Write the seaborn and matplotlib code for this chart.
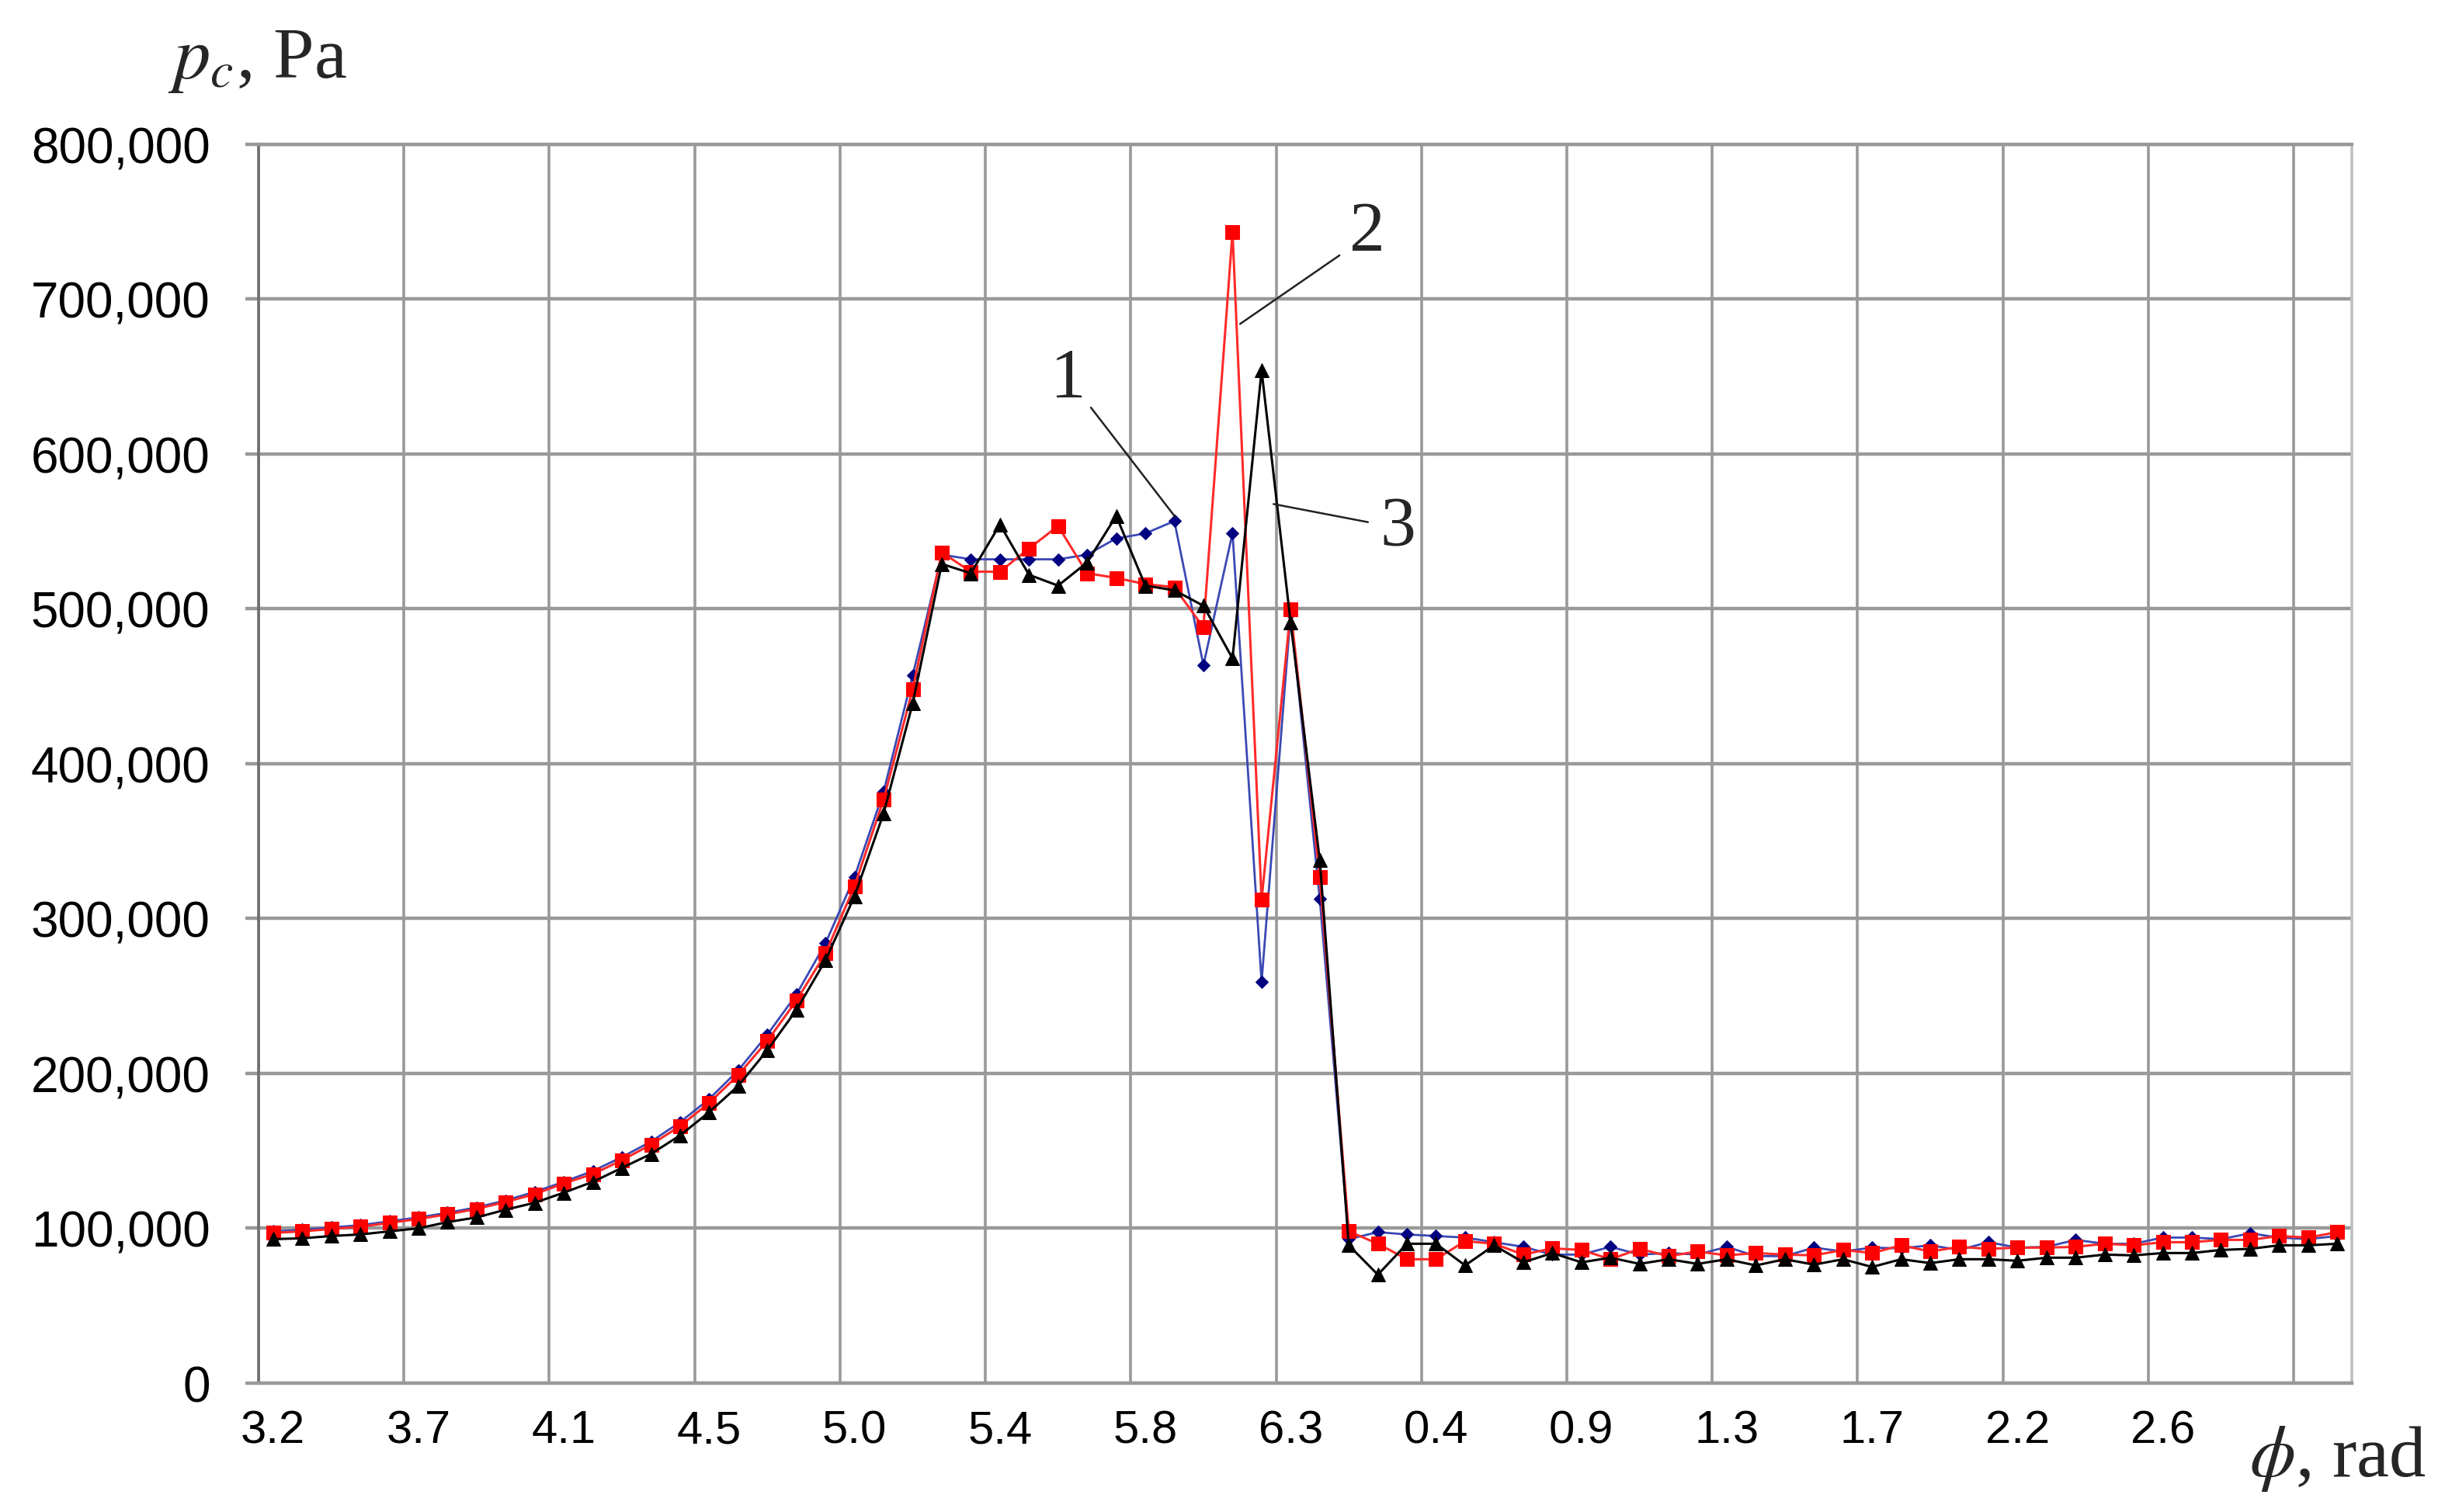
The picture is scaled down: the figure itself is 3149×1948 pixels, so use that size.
import numpy as np
import pandas as pd
import seaborn as sns
import matplotlib.pyplot as plt
from matplotlib.ticker import FuncFormatter

# category labels (every 5th point, angle in rad)
angle_labels = ['3.2', '3.7', '4.1', '4.5', '5.0', '5.4', '5.8', '6.3',
                '0.4', '0.9', '1.3', '1.7', '2.2', '2.6']
n_points = 72

# pressure p_c, thousands of Pa
curve1 = [98, 99, 100.5, 102, 104.5, 107, 110, 113.5, 118, 123.5, 130, 137, 146, 156, 168.5, 183.5, 202, 225, 251,
          284, 327, 382, 457, 535, 532, 532, 532, 532, 535, 545.5, 548.7, 556.7, 463.6, 549, 259, 497, 313,
          93, 97.5, 96, 95, 94, 91, 88, 83, 83, 88, 83, 84, 83, 88, 82, 82, 87.5,
          85, 87.5, 87, 89, 86, 91, 87.5, 88, 92.5, 90, 90, 94, 94, 93, 96.7, 94, 93, 95]
curve2 = [97, 98, 99.5, 101, 103.5, 106, 109, 112.5, 117, 122, 129, 135, 144, 154, 166, 181, 199, 221, 247,
          277.5, 321, 377, 448, 536.5, 524, 524, 539, 553.5, 523, 520, 516, 514, 488, 743.5, 312, 499.5, 327,
          98, 90, 80, 80, 91.7, 90, 83, 87, 86, 80, 86.7, 82, 85, 82.5, 84, 83, 82.5,
          86, 84, 89, 85, 88, 86.7, 87.5, 87.5, 88, 90, 89, 91, 91, 92.5, 92.5, 95, 94, 97.5]
curve3 = [93, 93.5, 95, 96, 98, 100, 104, 107, 112, 116.5, 123, 130, 139, 148, 160, 175, 192, 215, 241,
          273, 314.5, 368, 439, 529, 523, 554.5, 522, 515, 530, 560, 515, 512, 502, 468, 654, 491, 338,
          89, 70, 90, 90, 76, 89, 78, 84, 78, 81, 77, 80, 77, 80, 76, 80, 76.5,
          80, 75, 80, 77.5, 80, 80, 79, 81, 81, 83, 82.5, 84, 84, 86, 86.7, 89, 89, 90]

idx = np.arange(n_points)
frames = []
for name, vals in [('1', curve1), ('2', curve2), ('3', curve3)]:
    frames.append(pd.DataFrame({'idx': idx, 'p': np.array(vals) * 1000, 'curve': name}))
df = pd.concat(frames, ignore_index=True)

sns.set_style('white')
plt.rcParams['font.family'] = ['Liberation Sans', 'DejaVu Sans']
plt.rcParams['mathtext.fontset'] = 'stix'

fig = plt.figure(figsize=(31.49, 19.49), dpi=100)
ax = fig.add_axes([0.10575, 0.0852, 0.85614, 0.81889])

grid_c = '#999999'
styles = {
    '1': dict(color='#3a48b4', marker='D', markersize=8.5, markerfacecolor='#000080', markeredgecolor='#000080', linewidth=2.0),
    '2': dict(color='#ff2a2a', marker='s', markersize=13, markerfacecolor='#ff0000', markeredgecolor='#ff0000', linewidth=2.2),
    '3': dict(color='black', marker='^', markersize=13, markerfacecolor='black', markeredgecolor='black', linewidth=2.2),
}
for name in ['1', '2', '3']:
    sns.lineplot(data=df[df['curve'] == name], x='idx', y='p', errorbar=None, ax=ax, **styles[name])

ax.set_xlim(-0.5, n_points - 0.5)
ax.set_ylim(0, 800000)

# labels centred on every 5th category, grid/ticks on the category boundaries
ax.set_xticks(idx[::5][:len(angle_labels)])
ax.set_xticklabels(angle_labels)
ax.set_xticks(np.arange(-0.5, 65, 5), minor=True)
ax.set_yticks(np.arange(0, 800001, 100000))
ax.yaxis.set_major_formatter(FuncFormatter(lambda v, _: f'{int(v):,}'))

ax.grid(False)
ax.grid(axis='y', which='major', color=grid_c, linewidth=3.2)
ax.grid(axis='x', which='minor', color=grid_c, linewidth=2.6)
ax.axvline(69.5, color=grid_c, linewidth=2.6, zorder=0)
ax.set_axisbelow(True)

ax.tick_params(axis='x', which='major', length=0, pad=24, labelsize=43, labelcolor='black')
ax.tick_params(axis='x', which='minor', length=12, width=2.6, color=grid_c, direction='out')
ax.tick_params(axis='y', length=12, width=3.2, color=grid_c, pad=33, labelsize=46, labelcolor='black', left=True)

ax.spines['left'].set_color('#6e6e6e')
ax.spines['left'].set_linewidth(2.6)
ax.spines['bottom'].set_color(grid_c)
ax.spines['bottom'].set_linewidth(3.2)
ax.spines['top'].set_color(grid_c)
ax.spines['top'].set_linewidth(3.2)
ax.spines['right'].set_color('#c0c0c0')
ax.spines['right'].set_linewidth(2.6)

ax.set_xlabel('')
ax.set_ylabel('')

# curve numbers with leader lines
serif = ['Liberation Serif', 'DejaVu Serif']
leaders = [((31.02, 559600), (28.13, 630000)),
           ((33.26, 684000), (36.68, 728300)),
           ((34.41, 567700), (37.66, 556000))]
for end, start in leaders:
    ax.annotate('', xy=end, xytext=start,
                arrowprops=dict(arrowstyle='-', color='#222222', lw=1.8, shrinkA=0, shrinkB=0))
ax.text(27.35, 637300, '1', fontsize=66, family=serif, ha='center', va='baseline')
ax.text(37.63, 731800, '2', fontsize=66, family=serif, ha='center', va='baseline')
ax.text(38.68, 541000, '3', fontsize=66, family=serif, ha='center', va='baseline')

fig.text(216 / 3149, 1 - 100 / 1949, r'$p_c$, Pa', fontsize=68, family=serif, ha='left', va='baseline')
fig.text(2897 / 3149, 1 - 1902 / 1949, r'$\phi$, rad', fontsize=68, family=serif, ha='left', va='baseline')

fig.savefig('out.png', dpi=100)
